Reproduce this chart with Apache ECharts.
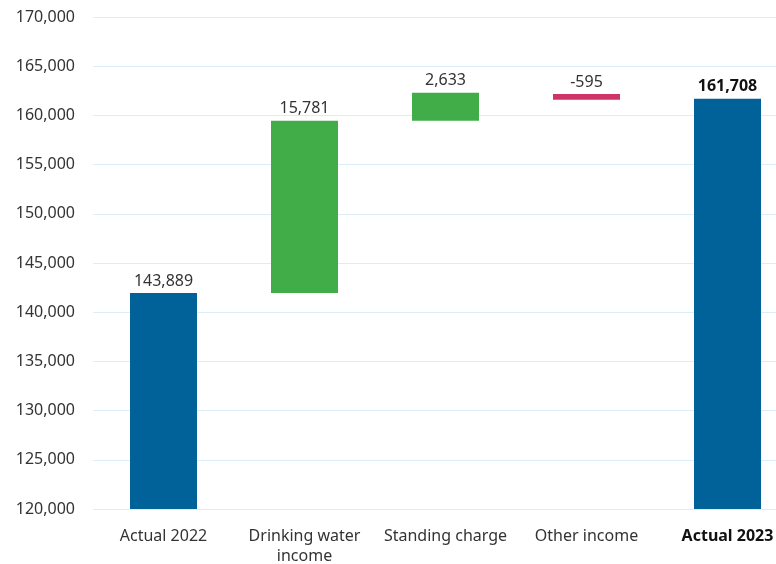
<!DOCTYPE html>
<html>
<head>
<meta charset="utf-8">
<script src="https://cdn.jsdelivr.net/npm/echarts@6/dist/echarts.min.js"></script>
<style>html,body{margin:0;padding:0;background:#fff}#c{width:776px;height:564px}</style>
</head>
<body>
<div id="c"></div>
<script>
const categories = ['Actual 2022', 'Drinking water\nincome', 'Standing charge', 'Other income', 'Actual 2023'];
const valueLabels = ['143,889', '15,781', '2,633', '-595', '161,708'];
// bar extents as drawn in the reference
const barLow  = [0, 141950, 159450, 161600, 0];
const barHigh = [141950, 159450, 162300, 162180, 161700];
const barColors = ['#006299', '#41ad49', '#41ad49', '#cf3466', '#006299'];
const yMin = 120000, yMax = 170000, yStep = 5000;

const delta = barHigh.map((h, i) => h - barLow[i]);
const fnt = '"Noto Sans", sans-serif';
const chart = echarts.init(document.getElementById('c'), null, {renderer: 'canvas'});
chart.setOption({
  animation: false,
  grid: {left: 93, width: 705, top: 17, bottom: 55, containLabel: false, outerBoundsMode: 'none'},
  xAxis: {
    type: 'category', data: categories,
    axisLine: {show: false}, axisTick: {show: false},
    axisLabel: {
      interval: 0, hideOverlap: false,
      margin: 17, fontFamily: fnt, fontSize: 16, color: '#333', lineHeight: 20,
      formatter: (v, i) => i === 4 ? '{b|' + v + '}' : v,
      rich: {b: {fontFamily: fnt, fontSize: 16, fontWeight: 'bold', color: '#111'}}
    }
  },
  yAxis: {
    type: 'value', min: yMin, max: yMax, interval: yStep,
    axisLine: {show: false}, axisTick: {show: false},
    splitLine: {lineStyle: {color: '#dcedf8', width: 1}},
    axisLabel: {margin: 18, fontFamily: fnt, fontSize: 16, color: '#333',
      formatter: v => v.toLocaleString('en-US')}
  },
  series: [
    {type: 'bar', stack: 'w', data: barLow, barWidth: 67, itemStyle: {color: 'transparent'}, silent: true},
    {type: 'bar', stack: 'w', barWidth: 67,
      data: delta.map((d, i) => ({value: d, itemStyle: {color: barColors[i]}})),
      label: {
        show: true, position: 'top', distance: 4, fontFamily: fnt, fontSize: 16, color: '#333',
        formatter: p => p.dataIndex === 4 ? '{b|' + valueLabels[4] + '}' : valueLabels[p.dataIndex],
        rich: {b: {fontFamily: fnt, fontSize: 16, fontWeight: 'bold', color: '#111'}}
      }
    }
  ]
});
</script>
</body>
</html>
